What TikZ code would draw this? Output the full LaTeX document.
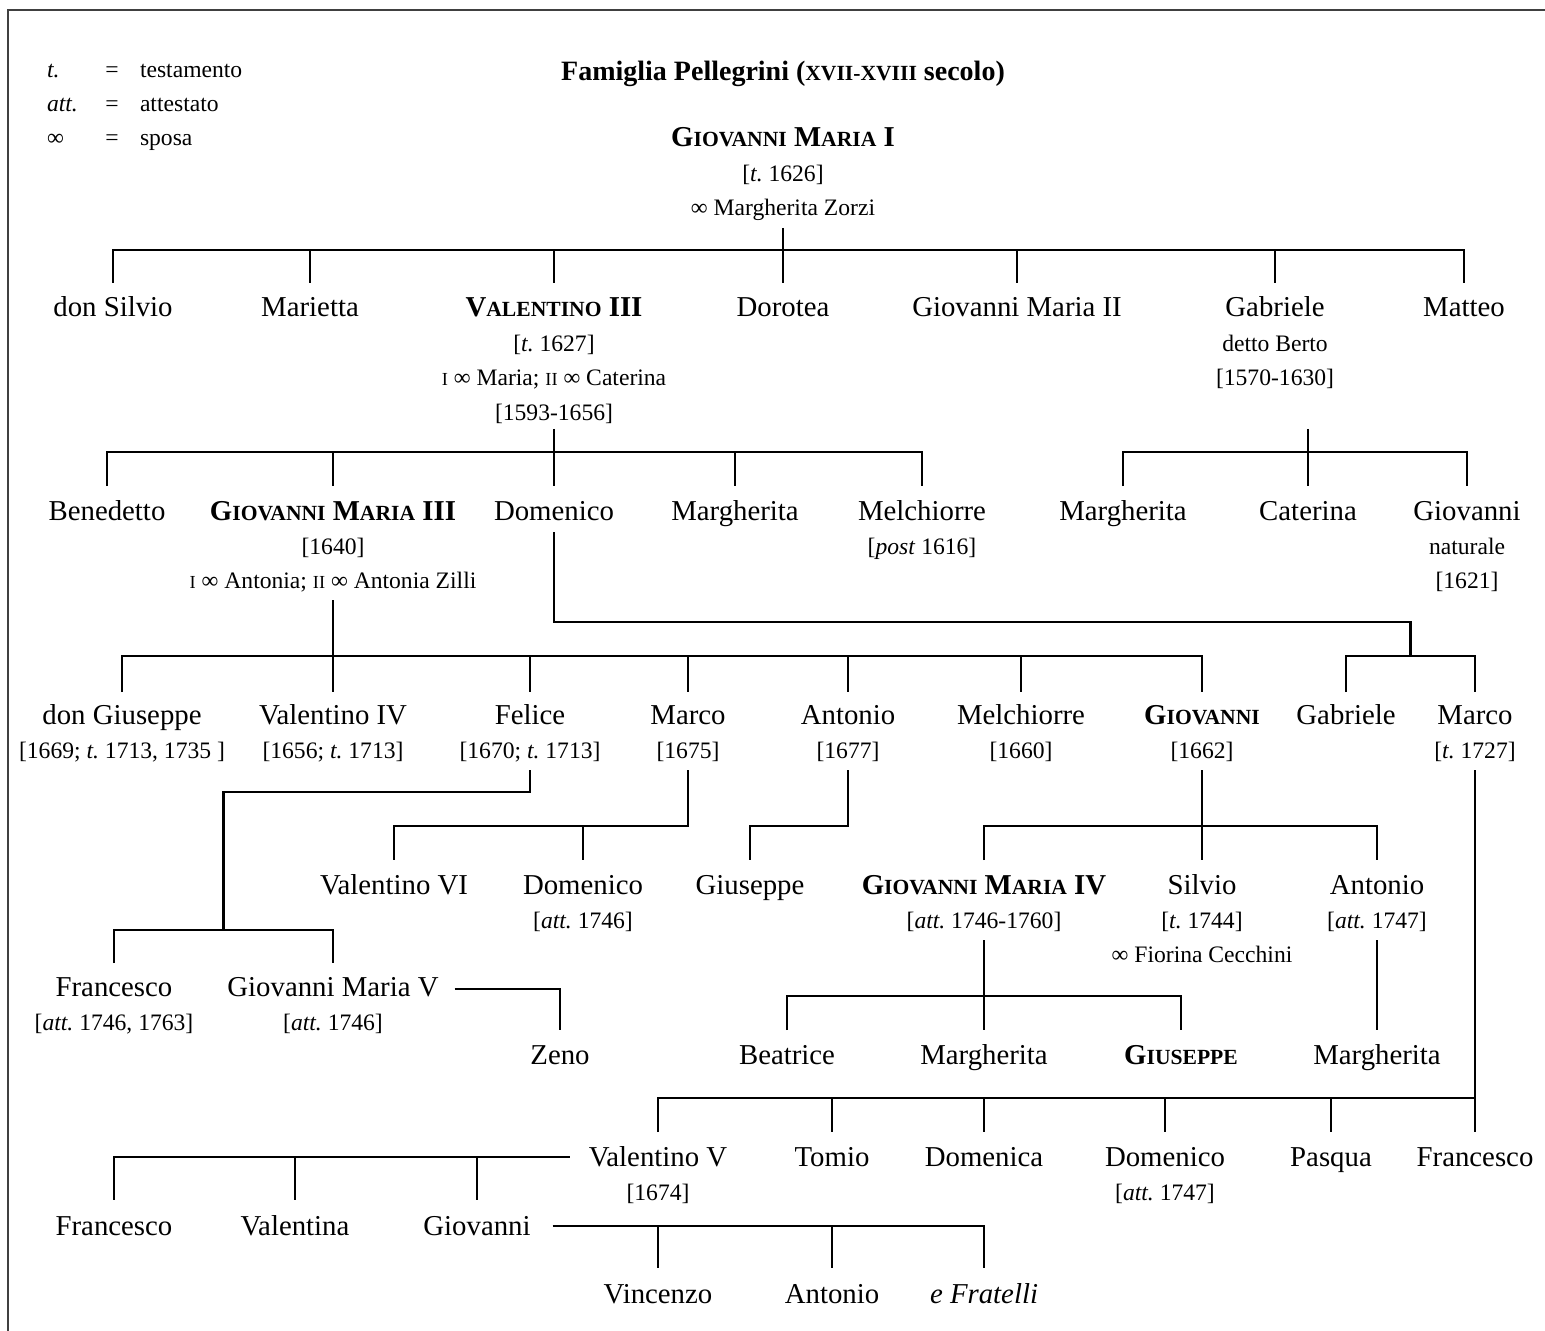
\documentclass[tikz,border=0pt]{standalone}
\usepackage{fontspec}
\setmainfont{Liberation Serif}
\usepackage{tikz}
\usetikzlibrary{calc}
\frenchspacing

\newcommand\nm{\fontsize{14.4}{17.2}\selectfont}
\newcommand\sm{\fontsize{11.8}{17.2}\selectfont}
\newcommand\sca[1]{{\fontsize{10.8}{17.2}\selectfont #1}}
\newcommand\scb[1]{{\fontsize{9.2}{17.2}\selectfont #1}}
\newcommand\marr{∞}
\newcommand\persblock[1]{\begin{tabular}[t]{@{}c@{}}#1\end{tabular}}

\begin{document}
\begin{tikzpicture}[
  x=0.5pt, y=-0.5pt,
  every node/.style={inner sep=0pt, outer sep=0pt},
  person/.style={anchor=base, font=\nm},
  legend/.style={anchor=base, font=\sm},
  link/.style={draw=black, line width=1.3pt, line join=miter},
  frame/.style={draw=black!75, line width=1pt},
]
  \useasboundingbox (0,0) rectangle (1545,1331);
  \draw[frame] (8,1331) -- (8,10) -- (1545,10);

  \node[legend, anchor=base west] (legt)   at (47,78)  {\emph{t.}};
  \node[legend]                   (legeqt) at (112,78) {=};
  \node[legend, anchor=base west] (legtx)  at (140,78) {testamento};
  \node[legend, anchor=base west] (lega)   at (47,112) {\emph{att.}};
  \node[legend]                   (legeqa) at (112,112) {=};
  \node[legend, anchor=base west] (legax)  at (140,112) {attestato};
  \node[legend, anchor=base west] (legs)   at (47,146) {\marr};
  \node[legend]                   (legeqs) at (112,146) {=};
  \node[legend, anchor=base west] (legsx)  at (140,146) {sposa};

  \node[person, font=\fontsize{14}{17}\selectfont\bfseries] (title) at (783,81)
    {Famiglia Pellegrini (\sca{XVII-XVIII} secolo)};

  \node[person] (gm1) at (783,147) {\persblock{\textbf{G\sca{IOVANNI} M\sca{ARIA} I}\\\sm[\emph{t.} 1626]\\\sm\marr{} Margherita Zorzi}};

  \node[person] (silvio1)  at (113,317)  {don Silvio};
  \node[person] (marietta) at (310,317)  {Marietta};
  \node[person] (val3)     at (554,317)  {\persblock{\textbf{V\sca{ALENTINO} III}\\\sm[\emph{t.} 1627]\\\sm\scb{I} \marr{} Maria; \scb{II} \marr{} Caterina\\\sm[1593-1656]}};
  \node[person] (dorotea)  at (783,317)  {Dorotea};
  \node[person] (gm2)      at (1017,317) {Giovanni Maria II};
  \node[person] (gabr1)    at (1275,317) {\persblock{Gabriele\\\sm detto Berto\\\sm[1570-1630]}};
  \node[person] (matteo)   at (1464,317) {Matteo};

  \node[person] (bened)  at (107,520)  {Benedetto};
  \node[person] (gm3)    at (333,520)  {\persblock{\textbf{G\sca{IOVANNI} M\sca{ARIA} III}\\\sm[1640]\\\sm\scb{I} \marr{} Antonia; \scb{II} \marr{} Antonia Zilli}};
  \node[person] (domen1) at (554,520)  {Domenico};
  \node[person] (margh1) at (735,520)  {Margherita};
  \node[person] (melch1) at (922,520)  {\persblock{Melchiorre\\\sm[\emph{post} 1616]}};
  \node[person] (margh2) at (1123,520) {Margherita};
  \node[person] (cater)  at (1308,520) {Caterina};
  \node[person] (giov1)  at (1467,520) {\persblock{Giovanni\\\sm naturale\\\sm[1621]}};

  \node[person] (giusep1) at (122,724)  {\persblock{don Giuseppe\\\sm[1669; \emph{t.} 1713, 1735 ]}};
  \node[person] (val4)    at (333,724)  {\persblock{Valentino IV\\\sm[1656; \emph{t.} 1713]}};
  \node[person] (felice)  at (530,724)  {\persblock{Felice\\\sm[1670; \emph{t.} 1713]}};
  \node[person] (marco1)  at (688,724)  {\persblock{Marco\\\sm[1675]}};
  \node[person] (anton1)  at (848,724)  {\persblock{Antonio\\\sm[1677]}};
  \node[person] (melch2)  at (1021,724) {\persblock{Melchiorre\\\sm[1660]}};
  \node[person] (giov2)   at (1202,724) {\persblock{\textbf{G\sca{IOVANNI}}\\\sm[1662]}};
  \node[person] (gabr2)   at (1346,724) {Gabriele};
  \node[person] (marco2)  at (1475,724) {\persblock{Marco\\\sm[\emph{t.} 1727]}};

  \node[person] (val6)    at (394,894)  {Valentino VI};
  \node[person] (domen2)  at (583,894)  {\persblock{Domenico\\\sm[\emph{att.} 1746]}};
  \node[person] (giusep2) at (750,894)  {Giuseppe};
  \node[person] (gm4)     at (984,894)  {\persblock{\textbf{G\sca{IOVANNI} M\sca{ARIA} IV}\\\sm[\emph{att.} 1746-1760]}};
  \node[person] (silvio2) at (1202,894) {\persblock{Silvio\\\sm[\emph{t.} 1744]\\\sm\marr{} Fiorina Cecchini}};
  \node[person] (anton2)  at (1377,894) {\persblock{Antonio\\\sm[\emph{att.} 1747]}};

  \node[person] (franc1) at (114,996) {\persblock{Francesco\\\sm[\emph{att.} 1746, 1763]}};
  \node[person] (gm5)    at (333,996) {\persblock{Giovanni Maria V\\\sm[\emph{att.} 1746]}};

  \node[person] (zeno)    at (560,1064)  {Zeno};
  \node[person] (beatr)   at (787,1064)  {Beatrice};
  \node[person] (margh3)  at (984,1064)  {Margherita};
  \node[person] (giusep3) at (1181,1064) {\textbf{G\sca{IUSEPPE}}};
  \node[person] (margh4)  at (1377,1064) {Margherita};

  \node[person] (val5)   at (658,1166)  {\persblock{Valentino V\\\sm[1674]}};
  \node[person] (tomio)  at (832,1166)  {Tomio};
  \node[person] (domca)  at (984,1166)  {Domenica};
  \node[person] (domen3) at (1165,1166) {\persblock{Domenico\\\sm[\emph{att.} 1747]}};
  \node[person] (pasqua) at (1331,1166) {Pasqua};
  \node[person] (franc2) at (1475,1166) {Francesco};

  \node[person] (franc3) at (114,1235) {Francesco};
  \node[person] (valna)  at (295,1235) {Valentina};
  \node[person] (giov4)  at (477,1235) {Giovanni};

  \node[person] (vinc)   at (658,1303) {Vincenzo};
  \node[person] (anton3) at (832,1303) {Antonio};
  \node[person] (frat)   at (984,1303) {\emph{e Fratelli}};

  \coordinate (gabmar) at ($(gabr2)!.5!(marco2)$);
  \coordinate (frgm)   at ($(franc1)!.5!(gm5)$);

  \draw[link] (gm1 |- 0,228) -- (dorotea |- 0,283);
  \draw[link] (silvio1 |- 0,283) -- (silvio1 |- 0,250) -- (matteo |- 0,250) -- (matteo |- 0,283);
  \foreach \c in {marietta,val3,gm2,gabr1}
    \draw[link] (\c |- 0,250) -- (\c |- 0,283);

  \draw[link] (val3 |- 0,429) -- (domen1 |- 0,486);
  \draw[link] (bened |- 0,486) -- (bened |- 0,452) -- (melch1 |- 0,452) -- (melch1 |- 0,486);
  \foreach \c in {gm3,margh1}
    \draw[link] (\c |- 0,452) -- (\c |- 0,486);

  \draw[link] (cater |- 0,429) -- (cater |- 0,486);
  \draw[link] (margh2 |- 0,486) -- (margh2 |- 0,452) -- (giov1 |- 0,452) -- (giov1 |- 0,486);

  \draw[link] (domen1 |- 0,532) |- (gabmar |- 0,622) -- (gabmar |- 0,656);
  \draw[link] (gabr2 |- 0,692) -- (gabr2 |- 0,656) -- (marco2 |- 0,656) -- (marco2 |- 0,692);

  \draw[link] (gm3 |- 0,600) -- (val4 |- 0,692);
  \draw[link] (giusep1 |- 0,692) -- (giusep1 |- 0,656) -- (giov2 |- 0,656) -- (giov2 |- 0,692);
  \foreach \c in {felice,marco1,anton1,melch2}
    \draw[link] (\c |- 0,656) -- (\c |- 0,692);

  \draw[link] (felice |- 0,770) |- (frgm |- 0,792) -- (frgm |- 0,930);
  \draw[link] (franc1 |- 0,963) -- (franc1 |- 0,930) -- (gm5 |- 0,930) -- (gm5 |- 0,963);

  \draw[link] (marco1 |- 0,770) -- (marco1 |- 0,826) -- (val6 |- 0,826) -- (val6 |- 0,860);
  \draw[link] (domen2 |- 0,826) -- (domen2 |- 0,860);

  \draw[link] (anton1 |- 0,770) |- (giusep2 |- 0,826) -- (giusep2 |- 0,860);

  \draw[link] (giov2 |- 0,770) -- (silvio2 |- 0,860);
  \draw[link] (gm4 |- 0,860) -- (gm4 |- 0,826) -- (anton2 |- 0,826) -- (anton2 |- 0,860);

  \draw[link] (gm4 |- 0,940) -- (margh3 |- 0,1030);
  \draw[link] (beatr |- 0,1030) -- (beatr |- 0,996) -- (giusep3 |- 0,996) -- (giusep3 |- 0,1030);

  \draw[link] (anton2 |- 0,940) -- (margh4 |- 0,1030);

  \draw[link] ($(gm5.east |- 0,989)+(16,0)$) -| (zeno |- 0,1030);

  \draw[link] (marco2 |- 0,770) -- (franc2 |- 0,1132);
  \draw[link] (val5 |- 0,1132) -- (val5 |- 0,1098) -- (marco2 |- 0,1098);
  \foreach \c in {tomio,domca,domen3,pasqua}
    \draw[link] (\c |- 0,1098) -- (\c |- 0,1132);

  \draw[link] ($(val5.west |- 0,1157)+(-19,0)$) -- (franc3 |- 0,1157) -- (franc3 |- 0,1200);
  \foreach \c in {valna,giov4}
    \draw[link] (\c |- 0,1157) -- (\c |- 0,1200);

  \draw[link] ($(giov4.east |- 0,1226)+(22,0)$) -- (frat |- 0,1226) -- (frat |- 0,1268);
  \foreach \c in {vinc,anton3}
    \draw[link] (\c |- 0,1226) -- (\c |- 0,1268);
\end{tikzpicture}
\end{document}
